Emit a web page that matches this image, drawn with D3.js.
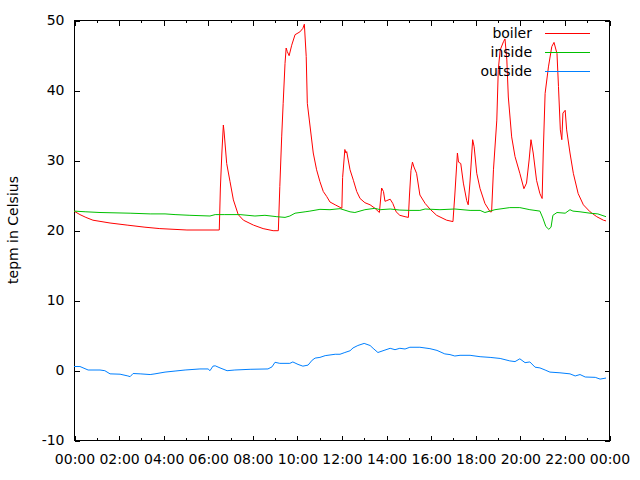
<!DOCTYPE html>
<html>
<head>
<meta charset="utf-8">
<script src="https://cdn.jsdelivr.net/npm/d3@7"></script>
<style>
  html, body { margin: 0; padding: 0; background: #fff; }
  svg { display: block; font-family: "DejaVu Sans", sans-serif; }
</style>
</head>
<body>
<svg id="chart" width="640" height="480"></svg>
<script>
// ---- data ----
const seriesNames = ["boiler", "inside", "outside"];
const seriesColors = ["#ff0000", "#00c000", "#0080ff"];

const boilerTimes = ["00:00","00:16","00:32","00:51","01:37","02:23","03:11","03:51","05:04","06:31","06:34","06:38","06:42","06:44","06:51","07:00","07:09","07:22","07:36","08:03","08:29","08:56","09:10","09:14","09:19","09:23","09:28","09:31","09:34","09:39","09:46","09:55","10:08","10:16","10:20","10:25","10:28","10:35","10:44","10:53","11:02","11:11","11:20","11:29","11:43","12:01","12:03","12:09","12:12","12:14","12:23","12:32","12:41","12:50","13:03","13:17","13:30","13:42","13:48","13:53","13:57","14:02","14:11","14:18","14:27","14:37","14:51","15:00","15:03","15:07","15:11","15:15","15:22","15:31","15:45","15:58","16:16","16:43","17:00","17:05","17:12","17:15","17:21","17:28","17:37","17:41","17:46","17:53","17:57","18:04","18:13","18:26","18:40","18:44","18:49","18:58","19:02","19:07","19:16","19:20","19:25","19:29","19:38","19:47","20:00","20:11","20:18","20:25","20:30","20:36","20:45","20:54","21:00","21:03","21:08","21:17","21:26","21:32","21:40","21:44","21:49","21:53","21:56","22:02","22:06","22:15","22:24","22:37","22:51","23:09","23:27","23:45","23:52"];
const boilerValues = [22.7,22.2,21.8,21.4,21.0,20.7,20.4,20.2,20.0,20.0,26.0,31.0,35.0,34.0,29.5,26.9,24.3,22.2,21.4,20.7,20.2,19.9,19.9,26.2,33.3,38.1,43.8,46.0,45.5,44.9,46.4,47.9,48.3,48.8,49.4,44.8,38.1,35.0,31.0,28.6,26.9,25.5,24.8,24.0,23.6,23.1,27.5,31.5,31.0,31.2,28.6,27.1,25.5,24.5,23.9,23.6,23.1,22.5,26.0,25.5,24.1,24.2,24.4,23.8,22.6,22.1,21.9,21.8,25.0,28.5,29.7,29.0,28.1,25.0,23.8,23.0,22.1,21.4,21.2,25.0,31.0,29.7,29.5,26.7,24.2,23.6,27.0,32.9,31.9,28.1,25.9,23.8,22.6,22.6,28.6,35.7,42.9,45.7,46.9,47.3,44.3,39.0,33.3,30.5,28.1,25.9,26.7,30.0,32.9,31.0,27.1,25.2,24.5,31.0,39.5,43.3,46.2,46.8,45.2,40.5,34.3,32.9,36.7,37.1,34.3,31.0,28.1,25.2,23.6,22.6,21.9,21.4,21.3];

const insideTimes = ["00:00","00:32","01:10","02:31","03:25","04:05","04:32","05:12","06:06","06:20","06:46","07:27","08:07","08:34","09:06","09:28","09:41","09:55","10:22","10:35","11:02","11:29","11:56","12:23","12:36","13:03","13:30","13:44","14:11","14:37","15:04","15:31","15:45","16:25","17:05","17:46","18:13","18:26","18:53","19:33","20:00","20:27","20:54","21:02","21:10","21:18","21:24","21:29","21:40","22:02","22:15","22:23","22:42","23:09","23:30","23:52"];
const insideValues = [22.7,22.6,22.5,22.4,22.3,22.3,22.2,22.1,22.0,22.2,22.2,22.2,22.0,22.1,21.9,21.8,22.0,22.4,22.6,22.7,22.95,22.9,23.05,22.6,22.5,22.9,23.1,22.9,23.0,22.85,22.8,22.8,23.0,22.9,23.0,22.8,22.8,22.5,22.9,23.2,23.2,22.9,22.7,21.7,20.5,20.1,20.4,22.1,22.5,22.4,22.9,22.7,22.6,22.4,22.3,21.9];

const outsideTimes = ["00:00","00:16","00:38","01:10","01:23","01:37","02:04","02:25","02:31","02:39","02:58","03:25","03:38","04:05","04:32","04:59","05:39","06:01","06:06","06:14","06:20","06:33","06:52","07:13","07:54","08:42","08:53","09:01","09:14","09:41","09:49","10:03","10:16","10:30","10:41","10:49","11:02","11:16","11:43","11:56","12:09","12:23","12:31","12:44","13:01","13:17","13:25","13:38","13:57","14:11","14:24","14:37","14:51","15:04","15:31","15:58","16:17","16:38","16:52","17:05","17:19","17:46","18:13","18:40","19:07","19:33","19:47","20:00","20:14","20:27","20:41","20:54","21:08","21:21","21:48","22:15","22:29","22:42","22:56","23:23","23:36","23:52"];
const outsideValues = [0.5,0.5,0.0,0.0,-0.1,-0.55,-0.6,-0.85,-0.95,-0.5,-0.55,-0.65,-0.55,-0.3,-0.15,0.0,0.15,0.15,-0.1,0.55,0.6,0.3,-0.1,0.0,0.1,0.15,0.45,1.1,0.95,0.95,1.15,0.8,0.55,0.7,1.4,1.7,1.8,2.05,2.25,2.25,2.5,2.75,3.15,3.5,3.8,3.5,3.1,2.5,2.85,3.1,2.9,3.1,3.0,3.25,3.25,3.05,2.8,2.3,2.2,2.0,2.1,2.1,1.9,1.8,1.65,1.3,1.2,1.6,1.05,1.15,0.4,0.3,0.0,-0.3,-0.4,-0.55,-0.85,-0.65,-1.0,-1.05,-1.3,-1.15];

const xMajorTicks = ["00:00","02:00","04:00","06:00","08:00","10:00","12:00","14:00","16:00","18:00","20:00","22:00","24:00"];
const xMinorTicks = ["01:00","03:00","05:00","07:00","09:00","11:00","13:00","15:00","17:00","19:00","21:00","23:00"];
const yTicks = [-10, 0, 10, 20, 30, 40, 50];
const yLabel = "tepm in Celsius";

// ---- helpers ----
const toMin = s => { const p = s.split(":"); return (+p[0]) * 60 + (+p[1]); };
const fmtMin = m => { const h = Math.floor(m / 60) % 24, mm = m % 60; return String(h).padStart(2, "0") + ":" + String(mm).padStart(2, "0"); };

const series = [
  { name: seriesNames[0], color: seriesColors[0], pts: boilerTimes.map((t, i) => [toMin(t), boilerValues[i]]) },
  { name: seriesNames[1], color: seriesColors[1], pts: insideTimes.map((t, i) => [toMin(t), insideValues[i]]) },
  { name: seriesNames[2], color: seriesColors[2], pts: outsideTimes.map((t, i) => [toMin(t), outsideValues[i]]) }
];

// ---- layout ----
const L = 74, R = 609, T = 20, B = 440;
const svg = d3.select("#chart");
const x = d3.scaleLinear().domain([0, 1440]).range([L, R]);
const y = d3.scaleLinear().domain([-10, 50]).range([B, T]);

const fontSize = 14;

// frame
svg.append("rect")
  .attr("x", L + 0.5).attr("y", T + 0.5)
  .attr("width", R - L).attr("height", B - T)
  .attr("fill", "none").attr("stroke", "#000").attr("stroke-width", 1)
  .attr("shape-rendering", "crispEdges");

function styleAxis(g) {
  g.select(".domain").remove();
  g.selectAll(".tick line").attr("stroke", "#000").attr("shape-rendering", "crispEdges");
  g.selectAll("text").attr("fill", "#000").style("font-size", fontSize + "px").style("font-family", '"DejaVu Sans", sans-serif');
}

// bottom axis (major with labels)
svg.append("g").attr("transform", `translate(0.5,${B + 0.5})`)
  .call(d3.axisBottom(x).tickValues(xMajorTicks.map(toMin)).tickFormat(fmtMin).tickSizeInner(-5).tickSizeOuter(0).tickPadding(14))
  .call(styleAxis);
// bottom minor
svg.append("g").attr("transform", `translate(0.5,${B + 0.5})`)
  .call(d3.axisBottom(x).tickValues(xMinorTicks.map(toMin)).tickFormat("").tickSizeInner(-2.5).tickSizeOuter(0))
  .call(styleAxis);
// top mirrored
svg.append("g").attr("transform", `translate(0.5,${T + 0.5})`)
  .call(d3.axisTop(x).tickValues(xMajorTicks.map(toMin)).tickFormat("").tickSizeInner(-5).tickSizeOuter(0))
  .call(styleAxis);
svg.append("g").attr("transform", `translate(0.5,${T + 0.5})`)
  .call(d3.axisTop(x).tickValues(xMinorTicks.map(toMin)).tickFormat("").tickSizeInner(-2.5).tickSizeOuter(0))
  .call(styleAxis);
// left axis
svg.append("g").attr("transform", `translate(${L + 0.5},0.5)`)
  .call(d3.axisLeft(y).tickValues(yTicks).tickFormat(d => String(d)).tickSizeInner(-5).tickSizeOuter(0).tickPadding(10))
  .call(styleAxis);
// right mirrored
svg.append("g").attr("transform", `translate(${R + 0.5},0.5)`)
  .call(d3.axisRight(y).tickValues(yTicks).tickFormat("").tickSizeInner(-5).tickSizeOuter(0))
  .call(styleAxis);

// y label
svg.append("text")
  .attr("transform", `translate(18,230) rotate(-90)`)
  .attr("text-anchor", "middle")
  .attr("fill", "#000")
  .style("font-size", fontSize + "px")
  .text(yLabel);

// lines
const line = d3.line().x(d => x(d[0])).y(d => y(d[1]));
svg.append("g").selectAll("path").data(series).join("path")
  .attr("d", d => line(d.pts))
  .attr("fill", "none")
  .attr("stroke", d => d.color)
  .attr("stroke-width", 1);

// legend
const legend = svg.append("g");
series.forEach((s, i) => {
  const ly = 33 + i * 19;
  legend.append("text")
    .attr("x", 532).attr("y", ly + 5)
    .attr("text-anchor", "end")
    .attr("fill", "#000")
    .style("font-size", fontSize + "px")
    .text(s.name);
  legend.append("line")
    .attr("x1", 545).attr("x2", 590)
    .attr("y1", ly + 0.5).attr("y2", ly + 0.5)
    .attr("stroke", s.color).attr("stroke-width", 1)
    .attr("shape-rendering", "crispEdges");
});
</script>
</body>
</html>
